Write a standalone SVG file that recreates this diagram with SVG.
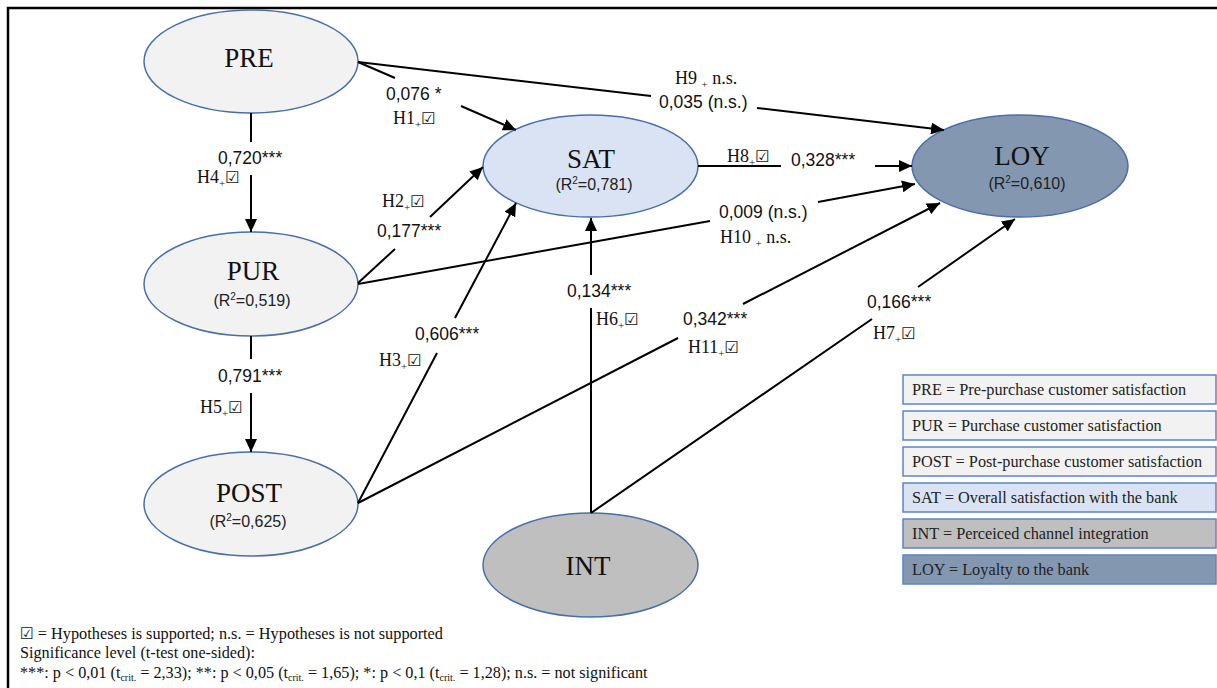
<svg xmlns="http://www.w3.org/2000/svg" width="1217" height="688" viewBox="0 0 1217 688">
<defs>
<marker id="ah" viewBox="0 0 13 12" refX="13" refY="6" markerWidth="13" markerHeight="12" markerUnits="userSpaceOnUse" orient="auto"><path d="M0,0 L13,6 L0,12 z" fill="#000"/></marker>
<style>
.nd{stroke:#4a6fa8;stroke-width:1.5}
.t1{font-family:'Liberation Serif','DejaVu Serif',serif;font-size:27px;fill:#111;text-anchor:middle}
.r2{font-family:'Liberation Sans','DejaVu Sans',sans-serif;font-size:16px;fill:#222;text-anchor:middle}
.cn path{fill:none;stroke:#000;stroke-width:2;marker-end:url(#ah)}
.num{font-family:'Liberation Sans','DejaVu Sans',sans-serif;font-size:17.5px;fill:#111}
.h{font-family:'Liberation Serif','DejaVu Sans',serif;font-size:18px;fill:#111}
.sb{font-size:11px}
.ck{font-family:'DejaVu Sans',sans-serif;font-weight:bold;font-size:16px}
.lg rect{stroke:#5b84c8;stroke-width:1.5}
.lg text{font-family:'Liberation Serif','DejaVu Serif',serif;font-size:16.3px;fill:#222}
.fn{font-family:'Liberation Serif','DejaVu Sans',serif;font-size:17px;fill:#111}
</style>
</defs>
<rect width="1217" height="688" fill="#fff"/>
<path d="M8,688 V8 H1217" fill="none" stroke="#000" stroke-width="2.5"/>

<g id="node-PRE"><ellipse class="nd" cx="251" cy="61.5" rx="107" ry="51.5" fill="#f2f2f2"/><text class="t1" x="249" y="67">PRE</text></g>
<g id="node-PUR"><ellipse class="nd" cx="251" cy="284" rx="107" ry="52" fill="#f2f2f2"/><text class="t1" x="253" y="280">PUR</text><text class="r2" x="252" y="306">(R<tspan dy="-6" font-size="10">2</tspan><tspan dy="6">=0,519)</tspan></text></g>
<g id="node-POST"><ellipse class="nd" cx="251" cy="504" rx="107" ry="52" fill="#f2f2f2"/><text class="t1" x="249" y="502">POST</text><text class="r2" x="248" y="527">(R<tspan dy="-6" font-size="10">2</tspan><tspan dy="6">=0,625)</tspan></text></g>
<g id="node-SAT"><ellipse class="nd" cx="590.5" cy="166" rx="107.5" ry="51" fill="#dae3f3"/><text class="t1" x="591" y="168">SAT</text><text class="r2" x="594" y="190">(R<tspan dy="-6" font-size="10">2</tspan><tspan dy="6">=0,781)</tspan></text></g>
<g id="node-LOY"><ellipse class="nd" cx="1020" cy="166" rx="108" ry="51" fill="#8497b0"/><text class="t1" x="1022" y="165">LOY</text><text class="r2" x="1027" y="189">(R<tspan dy="-6" font-size="10">2</tspan><tspan dy="6">=0,610)</tspan></text></g>
<g id="node-INT"><ellipse class="nd" cx="590.5" cy="565" rx="107.5" ry="52" fill="#bfbfbf"/><text class="t1" x="588" y="575">INT</text></g>

<g id="connectors" class="cn">
<path d="M251,113 V142 M251,175 V232"/>
<path d="M251,336 V359 M251,393 V452"/>
<path d="M358,62 L395,78 M461,106 L516,130"/>
<path d="M358,62 L651,96 M757,108 L944,130"/>
<path d="M698,166 H781 M875,166 H912"/>
<path d="M358,283 L395,249 M430,217 L483,167"/>
<path d="M358,503 L437,353 M455,318 L516,203"/>
<path d="M358,284 L710,221 M818,202 L915,184"/>
<path d="M358,503 L678,338 M743,304 L940,203"/>
<path d="M591,513 V308 M591,275 V218"/>
<path d="M591,513 L872,319 M918,287 L1015,219"/>
</g>

<g id="labels">
<text class="num" x="218" y="164">0,720***</text>
<text class="h" x="197" y="183">H4<tspan class="sb" dy="4">+</tspan><tspan class="ck" dy="-4">☑</tspan></text>
<text class="num" x="218" y="382">0,791***</text>
<text class="h" x="200" y="413">H5<tspan class="sb" dy="4">+</tspan><tspan class="ck" dy="-4">☑</tspan></text>
<text class="num" x="386" y="100">0,076 *</text>
<text class="h" x="393" y="124">H1<tspan class="sb" dy="4">+</tspan><tspan class="ck" dy="-4">☑</tspan></text>
<text class="h" x="675" y="84">H9 <tspan class="sb" dy="4">+</tspan><tspan dy="-4"> n.s.</tspan></text>
<text class="num" x="659" y="108">0,035 (n.s.)</text>
<text class="h" x="727" y="162">H8<tspan class="sb" dy="4">+</tspan><tspan class="ck" dy="-4">☑</tspan></text>
<text class="num" x="791" y="166">0,328***</text>
<text class="h" x="382" y="207">H2<tspan class="sb" dy="4">+</tspan><tspan class="ck" dy="-4">☑</tspan></text>
<text class="num" x="377" y="237">0,177***</text>
<text class="num" x="415" y="340">0,606***</text>
<text class="h" x="379" y="366">H3<tspan class="sb" dy="4">+</tspan><tspan class="ck" dy="-4">☑</tspan></text>
<text class="num" x="567" y="297">0,134***</text>
<text class="h" x="596" y="325">H6<tspan class="sb" dy="4">+</tspan><tspan class="ck" dy="-4">☑</tspan></text>
<text class="num" x="719" y="218">0,009 (n.s.)</text>
<text class="h" x="720" y="243">H10 <tspan class="sb" dy="4">+</tspan><tspan dy="-4"> n.s.</tspan></text>
<text class="num" x="683" y="325">0,342***</text>
<text class="h" x="688" y="353">H11<tspan class="sb" dy="4">+</tspan><tspan class="ck" dy="-4">☑</tspan></text>
<text class="num" x="867" y="308">0,166***</text>
<text class="h" x="873" y="339">H7<tspan class="sb" dy="4">+</tspan><tspan class="ck" dy="-4">☑</tspan></text>
</g>

<g id="legend" class="lg">
<rect x="903" y="375" width="313" height="29" fill="#f2f2f2"/><text x="912" y="395">PRE = Pre-purchase customer satisfaction</text>
<rect x="903" y="411" width="313" height="29" fill="#f2f2f2"/><text x="912" y="431">PUR = Purchase customer satisfaction</text>
<rect x="903" y="447" width="313" height="29" fill="#f2f2f2"/><text x="912" y="467">POST = Post-purchase customer satisfaction</text>
<rect x="903" y="483" width="313" height="29" fill="#dae3f3"/><text x="912" y="503">SAT = Overall  satisfaction with the bank</text>
<rect x="903" y="519" width="313" height="29" fill="#bfbfbf"/><text x="912" y="539">INT = Perceiced channel integration</text>
<rect x="903" y="555" width="313" height="29" fill="#8497b0"/><text x="912" y="575">LOY = Loyalty to the bank</text>
</g>

<g id="footnote" class="fn">
<text x="20" y="639" textLength="423" lengthAdjust="spacingAndGlyphs"><tspan class="ck" font-size="15">☑</tspan> = Hypotheses is supported; n.s. = Hypotheses is not supported</text>
<text x="20" y="658" textLength="235" lengthAdjust="spacingAndGlyphs">Significance level (t-test one-sided):</text>
<text x="20" y="678" font-size="16.2">***: p &lt; 0,01 (t<tspan font-size="10" dy="3">crit.</tspan><tspan dy="-3"> = 2,33); **: p &lt; 0,05 (t</tspan><tspan font-size="10" dy="3">crit.</tspan><tspan dy="-3"> = 1,65); *: p &lt; 0,1 (t</tspan><tspan font-size="10" dy="3">crit.</tspan><tspan dy="-3"> = 1,28); n.s. = not significant</tspan></text>
</g>
</svg>
